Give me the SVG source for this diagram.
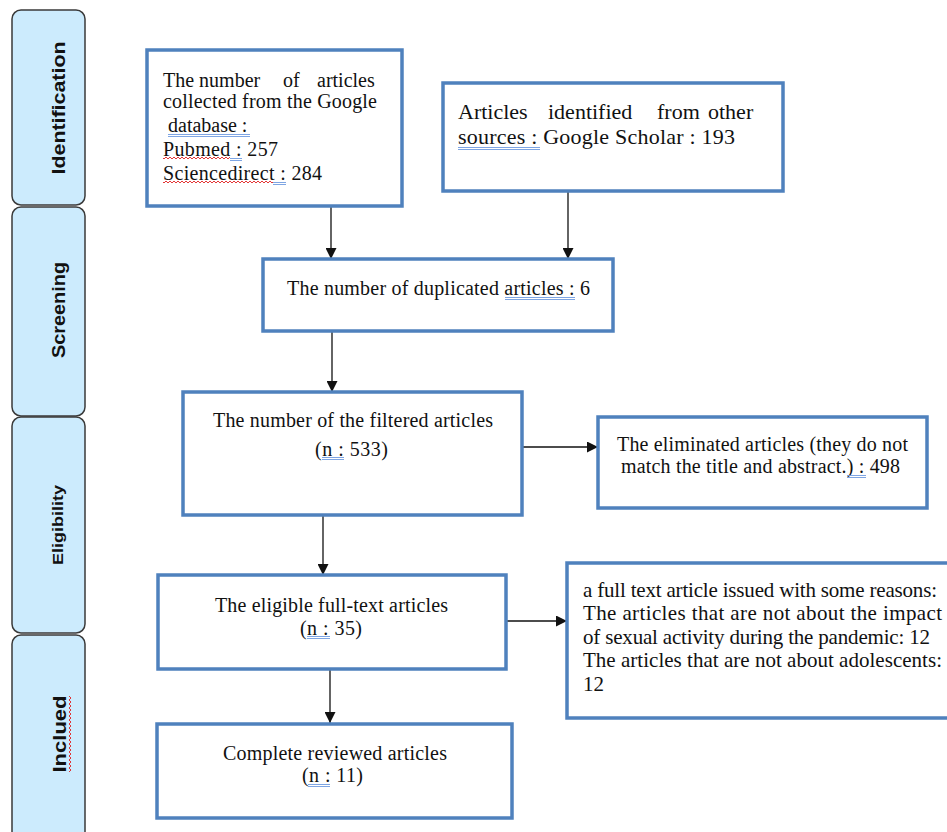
<svg xmlns="http://www.w3.org/2000/svg" width="947" height="832" viewBox="0 0 947 832">
<style>
.stage{fill:#CCEBFD;stroke:#3a3a3a;stroke-width:1.5}
.stlab{font-family:"Liberation Sans","Open Sans",sans-serif;font-weight:bold;font-size:18px;fill:#111}
.box{fill:#fff;stroke:#4F81BD;stroke-width:3.5}
.t{font-family:"Liberation Serif","Times New Roman",serif;font-size:20px;fill:#111}
.t22{font-size:22px}
.t21{font-size:21px}
.con{stroke:#111;stroke-width:1.3;fill:none;marker-end:url(#ah)}
.ul{stroke:#6F9BE0;stroke-width:0.9;fill:none}
</style>
<defs>
<marker id="ah" markerUnits="userSpaceOnUse" markerWidth="11" markerHeight="11" refX="11" refY="5.5" orient="auto">
<path d="M0,0 L11,5.5 L0,11 z" fill="#111"/>
</marker>
<pattern id="wh" width="4" height="4" patternUnits="userSpaceOnUse">
<path d="M0,3 L2,1 L4,3" stroke="#e02020" stroke-width="0.9" fill="none"/>
</pattern>
<pattern id="wv" width="4" height="4" patternUnits="userSpaceOnUse">
<path d="M1,0 L3,2 L1,4" stroke="#e02020" stroke-width="0.9" fill="none"/>
</pattern>
</defs>
<rect width="947" height="832" fill="#fff"/>

<g id="stage-identification">
<rect class="stage" x="12" y="10" width="73" height="195" rx="9"/>
<text class="stlab" transform="translate(65,108) rotate(-90)" text-anchor="middle" textLength="133" lengthAdjust="spacingAndGlyphs">Identification</text>
</g>
<g id="stage-screening">
<rect class="stage" x="12" y="207" width="73" height="209" rx="9"/>
<text class="stlab" transform="translate(65,310) rotate(-90)" text-anchor="middle" textLength="96" lengthAdjust="spacingAndGlyphs">Screening</text>
</g>
<g id="stage-eligibility">
<rect class="stage" x="12" y="417" width="73" height="216" rx="9"/>
<text class="stlab" style="font-size:15px;font-weight:600" transform="translate(63,525) rotate(-90)" text-anchor="middle" textLength="80" lengthAdjust="spacingAndGlyphs">Eligibility</text>
</g>
<g id="stage-included">
<rect class="stage" x="12" y="635" width="73" height="210" rx="9"/>
<text class="stlab" transform="translate(66,734) rotate(-90)" text-anchor="middle" textLength="77" lengthAdjust="spacingAndGlyphs">Inclued</text>
<rect x="68" y="696" width="4" height="76" fill="url(#wv)"/>
</g>

<g id="connectors">
<line class="con" x1="331" y1="206" x2="331" y2="259"/>
<line class="con" x1="568" y1="191" x2="568" y2="259"/>
<line class="con" x1="332" y1="331" x2="332" y2="392"/>
<line class="con" x1="323" y1="508" x2="323" y2="575"/>
<line class="con" x1="330" y1="669" x2="330" y2="723"/>
<line class="con" x1="522" y1="447" x2="598" y2="447"/>
<line class="con" x1="506" y1="621" x2="567" y2="621"/>
</g>

<g id="box-google">
<rect class="box" x="147" y="50" width="255" height="156"/>
<text class="t" y="87"><tspan x="163">The number</tspan><tspan x="283">of</tspan><tspan x="317">articles</tspan></text>
<text class="t" x="163" y="108" textLength="214" lengthAdjust="spacing">collected from the Google</text>
<text class="t" x="168" y="132">database :</text>
<text class="t" x="163" y="156" textLength="115" lengthAdjust="spacing">Pubmed : 257</text>
<text class="t" x="163" y="180" textLength="159" lengthAdjust="spacing">Sciencedirect : 284</text>
<path class="ul" d="M168,134.5 H250 M168,136.5 H250 M230,158.5 H242 M230,160.5 H242 M273,182.5 H286 M273,184.5 H286"/>
<rect x="163" y="156" width="67" height="4" fill="url(#wh)"/>
<rect x="163" y="180" width="110" height="4" fill="url(#wh)"/>
</g>

<g id="box-other">
<rect class="box" x="443" y="83" width="340" height="108"/>
<text class="t t22" y="119"><tspan x="458">Articles</tspan><tspan x="548">identified</tspan><tspan x="657">from</tspan><tspan x="708">other</tspan></text>
<text class="t t22" x="458" y="144" textLength="277" lengthAdjust="spacing">sources : Google Scholar : 193</text>
<path class="ul" d="M458,147.5 H540 M458,149.5 H540"/>
</g>

<g id="box-duplicated">
<rect class="box" x="263" y="259" width="350" height="72"/>
<text class="t" x="287" y="295" textLength="303" lengthAdjust="spacing">The number of duplicated articles : 6</text>
<path class="ul" d="M505,297.5 H575 M505,299.5 H575"/>
</g>

<g id="box-filtered">
<rect class="box" x="183" y="392" width="339" height="123"/>
<text class="t" x="213" y="427" textLength="280" lengthAdjust="spacing">The number of the filtered articles</text>
<text class="t" x="315" y="456" textLength="73" lengthAdjust="spacing">(n : 533)</text>
<path class="ul" d="M322,457.5 H344 M322,459.5 H344"/>
</g>

<g id="box-eliminated">
<rect class="box" x="598" y="417" width="329" height="91"/>
<text class="t" x="617" y="451" textLength="291" lengthAdjust="spacing">The eliminated articles (they do not</text>
<text class="t" x="621" y="473" textLength="279" lengthAdjust="spacing">match the title and abstract.) : 498</text>
<path class="ul" d="M847,475.5 H866 M847,477.5 H866"/>
</g>

<g id="box-eligible">
<rect class="box" x="158" y="575" width="348" height="94"/>
<text class="t" x="215" y="612" textLength="233" lengthAdjust="spacing">The eligible full-text articles</text>
<text class="t" x="300" y="635" textLength="62" lengthAdjust="spacing">(n : 35)</text>
<path class="ul" d="M307,636.5 H330 M307,638.5 H330"/>
</g>

<g id="box-reasons">
<rect class="box" x="567" y="563" width="390" height="155"/>
<text class="t t21" x="583" y="597" textLength="354" lengthAdjust="spacing">a full text article issued with some reasons:</text>
<text class="t t21" x="583" y="620" textLength="359" lengthAdjust="spacing">The articles that are not about the impact</text>
<text class="t t21" x="583" y="644" textLength="347" lengthAdjust="spacing">of sexual activity during the pandemic: 12</text>
<text class="t t21" x="583" y="667" textLength="359" lengthAdjust="spacing">The articles that are not about adolescents:</text>
<text class="t t21" x="583" y="691">12</text>
</g>

<g id="box-complete">
<rect class="box" x="157" y="724" width="355" height="94"/>
<text class="t" x="223" y="760" textLength="224" lengthAdjust="spacing">Complete reviewed articles</text>
<text class="t" x="302" y="782" textLength="61" lengthAdjust="spacing">(n : 11)</text>
<path class="ul" d="M308,784.5 H330 M308,786.5 H330"/>
</g>
</svg>
